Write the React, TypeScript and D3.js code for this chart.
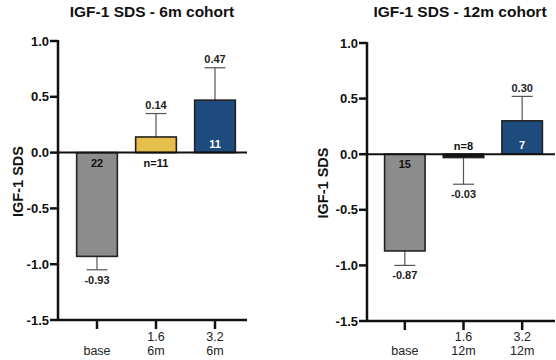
import React from 'react';
import * as d3 from 'd3';

// groups on the x axis (two-line labels)
const groups6m = [['base'], ['1.6', '6m'], ['3.2', '6m']];
const groups12m = [['base'], ['1.6', '12m'], ['3.2', '12m']];

// mean IGF-1 SDS per group
const means6m = [-0.93, 0.14, 0.47];
const means12m = [-0.87, -0.03, 0.3];

// error (one-sided, away from zero)
const errs6m = [0.12, 0.21, 0.29];
const errs12m = [0.13, 0.24, 0.22];

// n labels
const counts6m = ['22', 'n=11', '11'];
const counts12m = ['15', 'n=8', '7'];

const yTicks = [1.0, 0.5, 0.0, -0.5, -1.0, -1.5];
const barColors = ['#8c8c8c', '#e6bf4c', '#1e4b7d'];
const countColors = ['#111', '#111', '#fff'];

const FONT = '"Liberation Sans", Arial, sans-serif';

type PanelProps = {
  title: string;
  groups: string[][];
  means: number[];
  errs: number[];
  counts: string[];
  x0: number; // y-axis position
  x1: number; // end of x axis
  bandStart: number;
  bandEnd: number;
  yTop: number;
  yBottom: number;
  titleX: number;
  labelX: number;
};

const Panel = ({ title, groups, means, errs, counts, x0, x1, bandStart, bandEnd, yTop, yBottom, titleX, labelX }: PanelProps) => {
  const y = d3.scaleLinear().domain([-1.5, 1.0]).range([yBottom, yTop]);
  const x = d3.scaleBand<number>()
    .domain(d3.range(groups.length))
    .range([bandStart, bandEnd])
    .paddingInner(0.31)
    .paddingOuter(0.155);
  const bw = x.bandwidth();
  const zero = y(0);

  return (
    <g fontFamily={FONT}>
      <text x={titleX} y={17} textAnchor="middle" fontSize={15.5} fontWeight="bold" fill="#111">{title}</text>
      <text transform={`translate(${labelX},${(yTop + yBottom) / 2 + 1}) rotate(-90)`} textAnchor="middle"
        fontSize={14.5} fontWeight="bold" fill="#111">IGF-1 SDS</text>

      {/* bars */}
      {means.map((m, i) => {
        const cx = x(i)! + bw / 2;
        const top = Math.min(y(m), zero);
        const h = Math.abs(y(m) - zero);
        const errEnd = y(m >= 0 ? m + errs[i] : m - errs[i]);
        const big = Math.abs(m) > 0.2;
        return (
          <g key={i}>
            <line x1={cx} x2={cx} y1={y(m)} y2={errEnd} stroke="#555" strokeWidth={1.2} />
            <line x1={cx - 10.5} x2={cx + 10.5} y1={errEnd} y2={errEnd} stroke="#555" strokeWidth={1.2} />
            <rect x={x(i)} y={top} width={bw} height={h} fill={h < 5 ? '#151515' : barColors[i]}
              stroke="#222" strokeWidth={1.6} />
            <text x={cx} y={m >= 0 ? errEnd - 4.5 : errEnd + 14} textAnchor="middle" fontSize={11}
              fontWeight="bold" fill="#222">{m.toFixed(2)}</text>
            <text x={cx} textAnchor="middle" fontSize={11} fontWeight="bold"
              y={big ? (m >= 0 ? zero - 5 : zero + 14) : (m >= 0 ? zero + 14 : zero - 4)}
              fill={big ? countColors[i] : '#111'}>{counts[i]}</text>
          </g>
        );
      })}

      {/* y axis */}
      <line x1={x0} x2={x0} y1={yTop - 1} y2={yBottom + 1} stroke="#111" strokeWidth={2.5} />
      {yTicks.map(t => (
        <g key={t}>
          <line x1={x0 - 8} x2={x0} y1={y(t)} y2={y(t)} stroke="#111" strokeWidth={2.5} />
          <text x={x0 - 9} y={y(t) + 4.5} textAnchor="end" fontSize={13} fontWeight="bold" fill="#111">{t.toFixed(1)}</text>
        </g>
      ))}

      {/* zero line and bottom axis */}
      <line x1={x0} x2={x1} y1={zero} y2={zero} stroke="#111" strokeWidth={2} />
      <line x1={x0} x2={x1} y1={yBottom} y2={yBottom} stroke="#111" strokeWidth={2.5} />
      {groups.map((g, i) => {
        const cx = x(i)! + bw / 2;
        return (
          <g key={i}>
            <line x1={cx} x2={cx} y1={yBottom} y2={yBottom + 9} stroke="#111" strokeWidth={2.5} />
            {g.map((s, k) => (
              <text key={k} x={cx} y={355 - (g.length - 1 - k) * 14} textAnchor="middle" fontSize={12.5} fill="#222">{s}</text>
            ))}
          </g>
        );
      })}
    </g>
  );
};

export default function App() {
  return (
    <svg width={556} height={360} style={{ position: 'absolute', left: 0, top: 0, background: '#fff' }}>
      <rect width={556} height={360} fill="#fff" />
      <Panel title="IGF-1 SDS - 6m cohort" groups={groups6m} means={means6m} errs={errs6m} counts={counts6m}
        x0={58} x1={247} bandStart={67.5} bandEnd={244.5} yTop={41} yBottom={320} titleX={152} labelX={23} />
      <Panel title="IGF-1 SDS - 12m cohort" groups={groups12m} means={means12m} errs={errs12m} counts={counts12m}
        x0={367} x1={555} bandStart={375.5} bandEnd={551.5} yTop={43} yBottom={321} titleX={460} labelX={328} />
    </svg>
  );
}
